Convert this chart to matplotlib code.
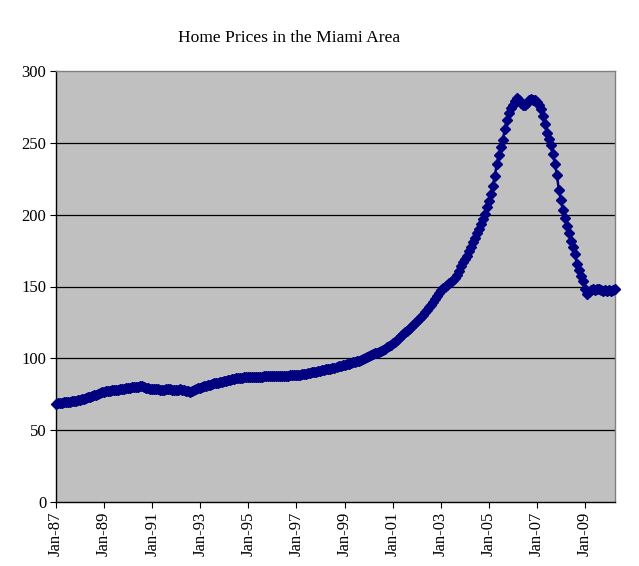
import matplotlib
matplotlib.use("Agg")
import matplotlib.pyplot as plt
import numpy as np

# Monthly index values, Jan-1987 .. Apr-2010
y1987 = [68.3, 68.6, 68.9, 69.1, 69.3, 69.5, 69.7, 69.9, 70.1, 70.3, 70.5, 70.7]
y1988 = [71.0, 71.4, 71.8, 72.3, 72.8, 73.3, 73.8, 74.3, 74.8, 75.3, 75.8, 76.3]
y1989 = [76.7, 77.0, 77.3, 77.5, 77.7, 77.9, 78.1, 78.3, 78.5, 78.7, 78.9, 79.1]
y1990 = [79.3, 79.5, 79.7, 79.9, 80.1, 80.3, 80.6, 80.4, 80.0, 79.6, 79.3, 79.0]
y1991 = [78.8, 78.6, 78.5, 78.4, 78.3, 78.3, 78.3, 78.4, 78.5, 78.4, 78.3, 78.2]
y1992 = [78.2, 78.3, 78.4, 78.3, 78.0, 77.6, 77.2, 76.8, 77.3, 78.0, 78.6, 79.2]
y1993 = [79.6, 80.0, 80.4, 80.8, 81.3, 81.7, 82.1, 82.5, 82.8, 83.1, 83.4, 83.8]
y1994 = [84.1, 84.4, 84.8, 85.1, 85.5, 85.8, 86.1, 86.3, 86.5, 86.6, 86.7, 86.8]
y1995 = [86.9, 87.0, 87.1, 87.1, 87.2, 87.2, 87.3, 87.3, 87.4, 87.4, 87.5, 87.5]
y1996 = [87.6, 87.6, 87.7, 87.7, 87.8, 87.8, 87.9, 88.0, 88.0, 88.1, 88.2, 88.3]
y1997 = [88.4, 88.5, 88.7, 88.9, 89.1, 89.3, 89.6, 89.9, 90.2, 90.5, 90.8, 91.1]
y1998 = [91.4, 91.7, 92.0, 92.3, 92.6, 92.9, 93.2, 93.6, 94.0, 94.4, 94.8, 95.2]
y1999 = [95.6, 96.0, 96.4, 96.8, 97.2, 97.6, 98.0, 98.4, 98.9, 99.5, 100.1, 100.9]
y2000 = [101.8, 102.4, 102.9, 103.5, 104.0, 104.6, 105.2, 106.0, 106.8, 107.7, 108.6, 109.6]
y2001 = [110.6, 111.7, 112.9, 114.1, 115.4, 116.7, 118.0, 119.3, 120.7, 122.0, 123.4, 124.8]
y2002 = [126.2, 127.6, 129.0, 130.5, 132.1, 133.8, 135.5, 137.3, 139.2, 141.1, 143.1, 145.2]
y2003 = [147.3, 148.8, 150.0, 151.2, 152.3, 153.4, 154.5, 156.0, 158.0, 161.0, 164.0, 166.8]
y2004 = [169.0, 171.5, 174.5, 177.8, 181.0, 184.0, 187.0, 190.2, 193.5, 197.0, 200.5, 205.0]
y2005 = [209.5, 214.5, 220.0, 227.0, 235.0, 241.5, 247.0, 252.0, 259.5, 266.0, 270.5, 274.0]
y2006 = [276.5, 279.0, 281.0, 280.0, 278.0, 276.0, 276.5, 278.0, 279.5, 280.5, 280.0, 279.5]
y2007 = [278.5, 276.5, 273.5, 269.0, 263.0, 257.0, 252.5, 248.5, 242.0, 235.5, 227.5, 217.0]
y2008 = [210.0, 203.0, 197.5, 192.0, 187.0, 182.0, 177.5, 172.5, 166.0, 161.5, 157.5, 153.5]
y2009 = [148.5, 145.0, 146.0, 147.5, 148.0, 147.5, 148.0, 148.5, 147.5, 147.0, 147.5, 147.0]
y2010 = [147.5, 147.0, 147.5, 148.0]

years = [y1987, y1988, y1989, y1990, y1991, y1992, y1993, y1994, y1995, y1996,
         y1997, y1998, y1999, y2000, y2001, y2002, y2003, y2004, y2005, y2006,
         y2007, y2008, y2009, y2010]
prices = np.concatenate(years)
months = np.arange(len(prices))

tick_labels = ["Jan-87", "Jan-89", "Jan-91", "Jan-93", "Jan-95", "Jan-97",
               "Jan-99", "Jan-01", "Jan-03", "Jan-05", "Jan-07", "Jan-09"]
tick_pos = np.arange(len(tick_labels)) * 24
y_ticks = [0, 50, 100, 150, 200, 250, 300]

plt.rcParams['font.family'] = ['Liberation Serif', 'DejaVu Serif']

W, H, DPI = 639, 566, 100
fig = plt.figure(figsize=(W / DPI, H / DPI), dpi=DPI)
ax = fig.add_axes([56 / W, (H - 502) / H, (615 - 56) / W, (502 - 71) / H])
ax.set_facecolor('#c0c0c0')

for v in y_ticks[1:-1]:
    ax.axhline(v, color='black', lw=0.9, zorder=1)

ax.plot(months, prices, color='#000080', lw=1.8, marker='D', markersize=4.8,
        markerfacecolor='#000080', markeredgecolor='#000080', clip_on=False, zorder=3)

ax.set_xlim(0, len(prices) - 1)
ax.set_ylim(0, 300)
ax.set_yticks(y_ticks)
ax.set_xticks(tick_pos)
ax.set_xticklabels(tick_labels, rotation=90)
ax.tick_params(axis='both', labelsize=12, length=4, width=0.8, direction='out',
               color='black', pad=3)

for side in ['left', 'bottom']:
    ax.spines[side].set_color('black')
    ax.spines[side].set_linewidth(1.0)
for side in ['top', 'right']:
    ax.spines[side].set_color('#808080')
    ax.spines[side].set_linewidth(1.0)

fig.text(289 / W, 1 - 38 / H, "Home Prices in the Miami Area", ha='center',
         va='center', fontsize=12.6)

fig.savefig("out.png", dpi=DPI)
